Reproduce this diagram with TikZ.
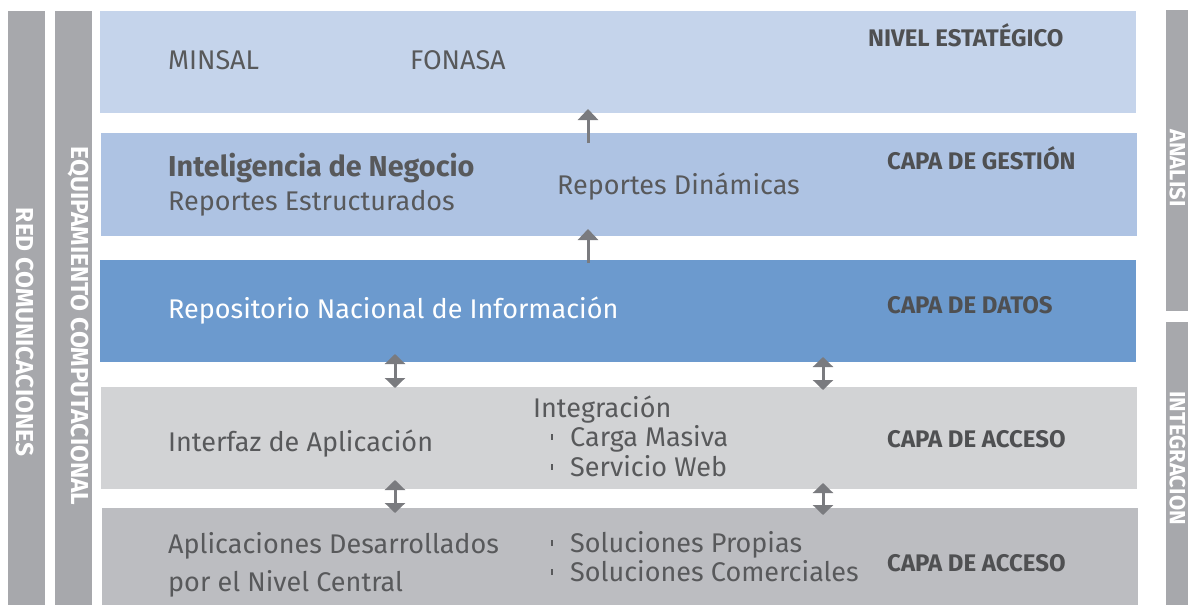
\documentclass[tikz,border=0pt]{standalone}
\usepackage{fontspec}
\setmainfont{Fira Sans}
\usetikzlibrary{arrows.meta}
\definecolor{cA}{HTML}{C5D4EB}
\definecolor{cB}{HTML}{AEC3E3}
\definecolor{cC}{HTML}{6C9ACE}
\definecolor{cD}{HTML}{D2D3D5}
\definecolor{cE}{HTML}{BCBDC1}
\definecolor{barc}{HTML}{A7A8AC}
\definecolor{arrc}{HTML}{7A7B7F}
\definecolor{txtc}{HTML}{58595B}
\definecolor{lblc}{HTML}{4F5052}
\tikzset{
  txt/.style={anchor=base west, inner sep=0pt, text=txtc, font=\fontsize{27}{31}\selectfont},
  lbl/.style={anchor=base west, inner sep=0pt, text=lblc, font=\fontsize{24}{28}\selectfont\bfseries},
  vlbl/.style={inner sep=0pt, text=white, rotate=-90, font=\fontsize{24.5}{28}\selectfont\bfseries},
  rvlbl/.style={vlbl, font=\fontsize{22}{26}\selectfont\bfseries},
  uparr/.style={draw=arrc, line width=3pt, -{Triangle[width=20pt,length=11pt]}},
  dblarr/.style={draw=arrc, line width=3pt, {Triangle[width=20pt,length=10pt]}-{Triangle[width=20pt,length=10pt]}},
  tick/.style={fill=txtc}
}
\begin{document}
\begin{tikzpicture}[x=1pt,y=-1pt]
\useasboundingbox (0,0) rectangle (1188,605);
% side bars
\fill[barc] (8,11) rectangle (45,605);
\fill[barc] (55,11) rectangle (92,605);
\fill[barc] (1166,10) rectangle (1188,311);
\fill[barc] (1166,322) rectangle (1188,605);
\node[vlbl] (red) at (25,332) {RED COMUNICACIONES};
\node[vlbl] (equ) at (78,326) {EQUIPAMIENTO COMPUTACIONAL};
\node[rvlbl] (ana) at (1177.5,168) {ANALISI};
\node[rvlbl] (int) at (1177.5,458) {INTEGRACION};
% layers
\fill[cA] (100,11) rectangle (1136,113);
\fill[cB] (101,133) rectangle (1137,236);
\fill[cC] (100,260) rectangle (1136,362);
\fill[cD] (101,387) rectangle (1137,489);
\fill[cE] (102,508) rectangle (1138,605);
% arrows
\draw[uparr] (588,143) -- (588,109);
\draw[uparr] (588,263) -- (588,229);
\draw[dblarr] (395,354) -- (395,388);
\draw[dblarr] (823,357) -- (823,390);
\draw[dblarr] (395,480) -- (395,513);
\draw[dblarr] (823,483) -- (823,515);
% texts layer 1
\node[txt] (minsal) at (168,69) {MINSAL};
\node[txt] (fonasa) at (410,69) {FONASA};
\node[lbl] (niv) at (868,46) {NIVEL ESTATÉGICO};
% layer 2
\node[txt, font=\fontsize{28.8}{32}\selectfont\bfseries] (ib) at (168,176) {Inteligencia de Negocio};
\node[txt] (re) at (168,210) {Reportes Estructurados};
\node[txt] (rd) at (557,194) {Reportes Dinámicas};
\node[lbl] (ges) at (887,169) {CAPA DE GESTIÓN};
% layer 3
\node[txt, text=white] (rni) at (168,318) {Repositorio Nacional de Información};
\node[lbl] (dat) at (887,313) {CAPA DE DATOS};
% layer 4
\node[txt] (ia) at (168,451) {Interfaz de Aplicación};
\node[txt] (ig) at (533,417) {Integración};
\node[txt] (cm) at (570,446) {Carga Masiva};
\node[txt] (sw) at (570,476) {Servicio Web};
\node[lbl] (acc1) at (887,447) {CAPA DE ACCESO};
% layer 5
\node[txt] (ad) at (168,553) {Aplicaciones Desarrollados};
\node[txt] (nc) at (168,591) {por el Nivel Central};
\node[txt] (sp) at (570,552) {Soluciones Propias};
\node[txt] (sc) at (570,581) {Soluciones Comerciales};
\node[lbl] (acc2) at (887,571) {CAPA DE ACCESO};
% bullets
\foreach \n in {cm,sw,sp,sc}{
  \fill[tick] ([xshift=-19pt,yshift=6pt]\n.base west) rectangle ++(2pt,6pt);
}
\end{tikzpicture}
\end{document}
